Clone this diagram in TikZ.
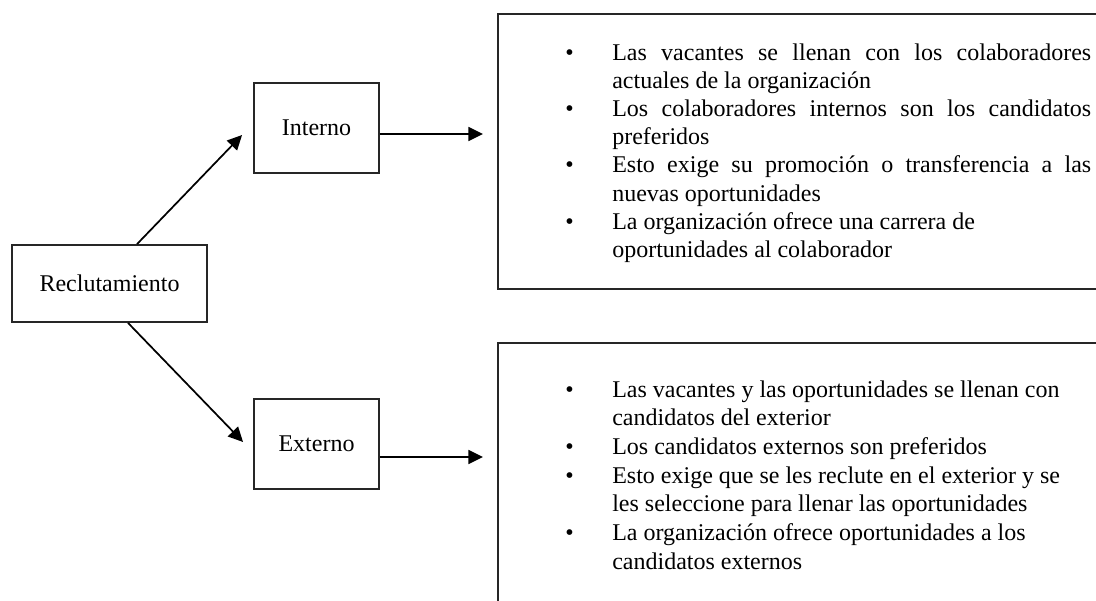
\documentclass[tikz,border=0pt]{standalone}
\usepackage{fontspec}
\setmainfont{Liberation Serif}
\usetikzlibrary{arrows.meta,calc}
\newlength\px \setlength\px{0.75pt}
\begin{document}
\begin{tikzpicture}[x=0.75pt,y=-0.75pt,
  lbl/.style={draw=black!85, line width=1.4pt, inner sep=0pt, font=\fontsize{18}{21}\selectfont},
  bigbox/.style={draw=black!85, line width=1.4pt, inner sep=0pt, anchor=north west},
  arr/.style={line width=1.3pt, -{Triangle[length=11pt,width=10.5pt]}},
  lst/.style={anchor=base west, inner sep=0pt}]
\useasboundingbox (0,0) rectangle (1096,600);
\node[lbl, minimum width=146.25pt, minimum height=57.75pt] (rec) at (109.5,283.5) {Reclutamiento};
\node[lbl, minimum width=93.75pt, minimum height=67.5pt] (int) at (316.5,128) {Interno};
\node[lbl, minimum width=93.75pt, minimum height=67.5pt] (ext) at (316.5,444) {Externo};
\node[bigbox, minimum width=459.75pt, minimum height=206.25pt] (b1) at (497,13) {};
\node[bigbox, minimum width=459.75pt, minimum height=201pt] (b2) at (497,342) {};
\draw[arr] ($(rec.north west)+(126,0)$) -- ($(int.west)+(-11,7)$);
\draw[arr] ($(rec.south west)+(117,0)$) -- ($(ext.west)+(-10,-2)$);
\draw[arr] ($(int.east)+(0,6)$) -- ($(b1.west |- int.east)+(-14,6)$);
\draw[arr] ($(ext.east)+(0,13)$) -- ($(b2.west |- ext.east)+(-14,13)$);
\node[lst] (t1) at (565,60) {\parbox[t]{540\px}{\fontsize{18}{21.15}\selectfont
\makebox[47\px][l]{\textbullet}\makebox[479\px][s]{Las vacantes se llenan con los colaboradores}\\
\hspace*{47\px}actuales de la organización\\
\makebox[47\px][l]{\textbullet}\makebox[479\px][s]{Los colaboradores internos son los candidatos}\\
\hspace*{47\px}preferidos\\
\makebox[47\px][l]{\textbullet}\makebox[479\px][s]{Esto exige su promoción o transferencia a las}\\
\hspace*{47\px}nuevas oportunidades\\
\makebox[47\px][l]{\textbullet}La organización ofrece una carrera de\\
\hspace*{47\px}oportunidades al colaborador}};
\node[lst] (t2) at (565,397) {\parbox[t]{540\px}{\fontsize{18}{21.5}\selectfont
\makebox[47\px][l]{\textbullet}Las vacantes y las oportunidades se llenan con\\
\hspace*{47\px}candidatos del exterior\\
\makebox[47\px][l]{\textbullet}Los candidatos externos son preferidos\\
\makebox[47\px][l]{\textbullet}Esto exige que se les reclute en el exterior y se\\
\hspace*{47\px}les seleccione para llenar las oportunidades\\
\makebox[47\px][l]{\textbullet}La organización ofrece oportunidades a los\\
\hspace*{47\px}candidatos externos}};
\end{tikzpicture}
\end{document}
